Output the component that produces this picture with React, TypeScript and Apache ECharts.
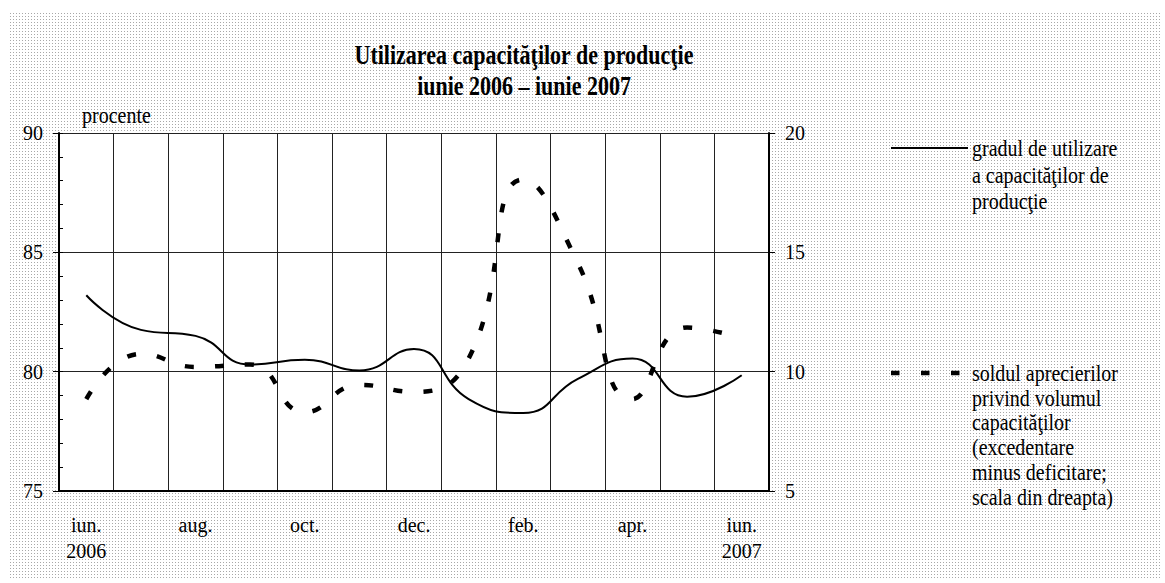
import React, { useEffect, useRef } from "react";
import * as echarts from "echarts";

const months = ["iun.\n2006", "iul.", "aug.", "sep.", "oct.", "nov.", "dec.", "ian.", "feb.", "mar.", "apr.", "mai", "iun.\n2007"];
const utilizare = [83.2, 81.75, 81.5, 80.3, 80.5, 80.05, 80.95, 78.85, 78.27, 79.7, 80.55, 78.95, 79.85];
const sold = [8.85, 10.75, 10.2, 10.3, 8.3, 9.45, 9.15, 10.55, 18.05, 14.55, 8.85, 11.85, 11.4];
const leftScale = { min: 75, max: 90, interval: 5 };
const rightScale = { min: 5, max: 20, interval: 5 };

const titleLines = ["Utilizarea capacităţilor de producţie", "iunie 2006 – iunie 2007"];
const unitLabel = "procente";
const legend1 = ["gradul de utilizare", "a capacităţilor de", "producţie"];
const legend2 = ["soldul aprecierilor", "privind volumul", "capacităţilor", "(excedentare", "minus deficitare;", "scala din dreapta)"];

const FONT = "'Liberation Serif', 'Times New Roman', Times, serif";
const SY = 1.2;
const PATTERN =
  "url(\"data:image/svg+xml,%3Csvg xmlns='http://www.w3.org/2000/svg' width='3' height='3'%3E%3Crect width='3' height='3' fill='white'/%3E%3Crect width='1' height='1' fill='%23a8a8a8'/%3E%3C/svg%3E\")";

export default function App() {
  const ref = useRef<HTMLDivElement>(null);
  useEffect(() => {
    if (!ref.current) return;
    const chart = echarts.init(ref.current, null, { renderer: "svg" });
    const txt = (text: string, x: number, y: number, extra: any = {}) => ({
      type: "text",
      x,
      y,
      scaleY: SY,
      style: {
        text,
        fill: "#000",
        fontFamily: FONT,
        fontSize: 20,
        align: "left",
        verticalAlign: "middle",
        ...extra,
      },
    });
    chart.setOption({
      animation: false,
      backgroundColor: "transparent",
      textStyle: { fontFamily: FONT, color: "#000" },
      grid: { left: 59, top: 133, width: 710, height: 358, show: true, backgroundColor: "#fff", borderWidth: 0 },
      xAxis: {
        type: "category",
        data: months,
        boundaryGap: true,
        axisLine: { lineStyle: { color: "#000", width: 2 } },
        axisTick: { show: false },
        axisLabel: { interval: 1, margin: 21, fontSize: 20, lineHeight: 26, color: "#000", fontFamily: FONT },
        splitLine: { show: true, interval: 0, lineStyle: { color: "#222", width: 1 } },
      },
      yAxis: [
        {
          type: "value",
          position: "left",
          ...leftScale,
          axisLine: { show: true, lineStyle: { color: "#000", width: 2 } },
          axisTick: { show: true, length: 6, lineStyle: { color: "#000" } },
          axisLabel: { margin: 16, fontSize: 20, color: "#000", fontFamily: FONT },
          splitLine: { show: true, lineStyle: { color: "#222", width: 1 } },
        },
        {
          type: "value",
          position: "right",
          ...rightScale,
          axisLine: { show: true, lineStyle: { color: "#000", width: 2 } },
          axisTick: { show: true, length: 6, lineStyle: { color: "#000" } },
          axisLabel: { margin: 16, fontSize: 20, color: "#000", fontFamily: FONT },
          splitLine: { show: false },
        },
        {
          type: "value",
          position: "left",
          min: 75,
          max: 90,
          interval: 1,
          axisLine: { show: false },
          axisTick: { show: true, inside: true, length: 4, lineStyle: { color: "#000" } },
          axisLabel: { show: false },
          splitLine: { show: false },
        },
      ],
      series: [
        {
          name: legend1.join(" "),
          type: "line",
          yAxisIndex: 0,
          data: utilizare,
          smooth: 0.5,
          symbol: "none",
          lineStyle: { color: "#000", width: 2 },
        },
        {
          name: legend2.join(" "),
          type: "line",
          yAxisIndex: 1,
          data: sold,
          smooth: 0.5,
          symbol: "none",
          lineStyle: { color: "#000", width: 4.5, type: [9, 21], cap: "butt" },
        },
      ],
      graphic: [
        txt(titleLines[0], 524, 54.5, { align: "center", fontWeight: "bold", fontSize: 22 }),
        txt(titleLines[1], 524, 85.5, { align: "center", fontWeight: "bold", fontSize: 22 }),
        txt(unitLabel, 82, 115),
        {
          type: "line",
          shape: { x1: 891, y1: 148, x2: 968, y2: 148 },
          style: { stroke: "#000", lineWidth: 2 },
        },
        txt(legend1.join("\n"), 972, 134.75, { verticalAlign: "top", lineHeight: 26.5 / SY }),
        {
          type: "line",
          shape: { x1: 891, y1: 373, x2: 961, y2: 373 },
          style: { stroke: "#000", lineWidth: 4.3, lineDash: [8.5, 21.5] },
        },
        txt(legend2.join("\n"), 972, 360.6, { verticalAlign: "top", lineHeight: 24.7 / SY }),
      ],
    });
    return () => chart.dispose();
  }, []);
  return (
    <div style={{ position: "fixed", left: 0, top: 0, width: 1165, height: 583, background: "#fff" }}>
      <div style={{ position: "absolute", left: 10, top: 13, width: 1152, height: 567, backgroundImage: PATTERN }} />
      <div ref={ref} style={{ position: "absolute", left: 0, top: 0, width: 1165, height: 583 }} />
    </div>
  );
}
